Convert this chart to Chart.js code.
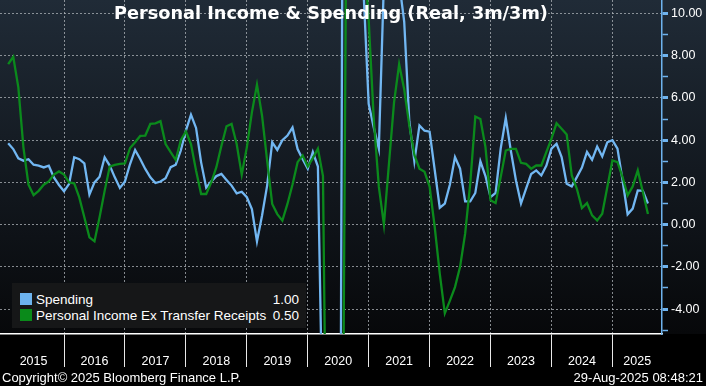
<!DOCTYPE html>
<html>
<head>
<meta charset="UTF-8">
<title>Personal Income & Spending</title>
<script src="https://cdn.jsdelivr.net/npm/chart.js"></script>
<style>
  body { margin: 0; background: #000; font-family: "Liberation Sans", Arial, sans-serif; }
  #wrap {
    position: relative; width: 706px; height: 386px;
    background: linear-gradient(to bottom, #202b37 0px, #131920 170px, #07080a 334px, #000 334px);
  }
  #chartTitle {
    position: absolute; left: 0; top: 5px; width: 662px; text-align: center;
    color: #fff; font: bold 17.7px "DejaVu Sans", sans-serif; line-height: 1; z-index: 2;
  }
  #legend {
    position: absolute; left: 12px; top: 283px; width: 294px; height: 45px;
    background: #161718; box-sizing: border-box; padding-top: 8px; z-index: 2;
  }
  #legend .row { display: flex; align-items: center; height: 16px; color: #fff; font-size: 13.5px; }
  #legend .sw { width: 12px; height: 12px; margin: 0 4px 0 8px; }
  #legend .name { flex: 1; }
  #legend .val { margin-right: 7px; }
  .foot { position: absolute; top: 371px; color: #fff; font-size: 13px; line-height: 1; }
  #copy { left: 2px; }
  #stamp { right: 3px; }
  canvas { position: absolute; left: 0; top: 0; }
</style>
</head>
<body>
<div id="wrap">
  <canvas id="chart" width="706" height="386"></canvas>
  <div id="chartTitle">Personal Income &amp; Spending (Real, 3m/3m)</div>
  <div id="legend"></div>
  <div class="foot" id="copy">Copyright© 2025 Bloomberg Finance L.P.</div>
  <div class="foot" id="stamp">29-Aug-2025 08:48:21</div>
</div>
<script>
  // monthly points, Jan 2015 .. Jul 2025 (month-end)
  const months = [];
  for (let y = 2015; y <= 2025; y++) {
    for (let m = 1; m <= 12; m++) {
      if (y === 2025 && m > 7) break;
      months.push(y + "-" + String(m).padStart(2, "0"));
    }
  }

  const years = ["2015", "2016", "2017", "2018", "2019", "2020", "2021", "2022", "2023", "2024", "2025"];
  const yTickValues = [-5, -4, -3, -2, -1, 0, 1, 2, 3, 4, 5, 6, 7, 8, 9, 10];
  const seriesNames = ["Spending", "Personal Income Ex Transfer Receipts"];

  const spending = [
    3.85, 3.58, 3.14, 3.03, 3.10, 2.84, 2.79, 2.71, 2.79, 2.24, 1.88, 1.58,
    1.93, 3.19, 3.10, 2.90, 1.42, 2.00, 2.27, 3.19, 2.80, 2.24, 1.74, 2.05,
    2.87, 3.54, 3.11, 2.64, 2.24, 1.97, 2.04, 2.20, 2.72, 2.84, 3.51, 4.45,
    5.21, 4.58, 2.95, 1.75, 2.05, 2.30, 2.40, 2.12, 1.85, 1.48, 1.56, 1.30,
    0.74, -0.79, 0.43, 1.85, 3.90, 3.54, 4.00, 4.22, 4.60, 3.58, 3.10, 2.65,
    3.44, 2.75, -10.5, -45, -50, -40, 25, 40, 30, 18, 11, 5.72,
    4.60, 3.60, 11.5, 16, 14, 11.5, 9.6, 4.9, 3.0, 4.7, 4.45, 4.40,
    2.60, 0.80, 1.00, 1.90, 3.20, 2.65, 1.10, 1.10, 1.50, 3.00, 2.30, 1.30,
    1.50, 3.60, 5.05, 3.50, 2.10, 1.00, 1.70, 2.40, 2.57, 2.33, 2.80, 3.60,
    3.83, 3.20, 1.94, 1.81, 2.25, 2.70, 3.44, 3.07, 3.70, 3.23, 3.90, 4.00,
    3.60, 2.10, 0.49, 0.76, 1.62, 1.60, 1.00
  ];

  const incomeExTransfers = [
    7.60, 7.95, 6.50, 3.66, 1.89, 1.40, 1.60, 1.89, 2.05, 2.37, 2.52, 2.37,
    2.00, 1.96, 1.29, 0.35, -0.60, -0.79, 0.35, 1.60, 2.75, 2.83, 2.88, 2.90,
    3.63, 3.90, 4.20, 4.22, 4.77, 4.80, 4.90, 3.82, 3.43, 3.06, 4.00, 4.42,
    3.82, 2.56, 1.45, 1.45, 2.00, 2.72, 3.74, 4.66, 4.77, 3.82, 2.37, 3.66,
    5.32, 6.63, 5.16, 3.03, 0.98, 0.50, 0.19, 0.98, 1.90, 2.96, 3.28, 2.75,
    3.15, 3.60, 2.30, -20, -25, -15, -8, 30, 25, 15, 13, 9.7,
    5.00, 1.80, 0.00, 2.90, 5.80, 7.60, 6.40, 4.70, 3.30, 2.65, 2.50, 1.80,
    -0.10, -2.32, -4.20, -3.60, -2.96, -2.00, -0.43, 1.94, 5.12, 5.00, 3.67, 1.15,
    1.02, 2.25, 3.51, 3.59, 3.59, 2.93, 2.88, 2.65, 2.80, 2.80, 3.44, 4.07,
    4.80, 4.54, 4.27, 2.33, 1.70, 0.79, 1.02, 0.44, 0.20, 0.52, 1.78, 3.04,
    2.96, 2.25, 1.39, 1.81, 2.57, 1.55, 0.50
  ];

  // axis range (month index units, index 0 = end of Jan 2015)
  const X_MIN = -1.611, X_MAX = 128.77;
  const Y_MIN = -5.18, Y_MAX = 10.64;

  const blue = "#72b7f2", green = "#0b8a1c", axisBlue = "#6fb3ee";
  const gridColor = "rgba(175,180,186,0.75)";

  // legend with last values
  const seriesData = [spending, incomeExTransfers];
  const swatches = ["#6db3ee", "#0a8a1a"];
  document.getElementById("legend").innerHTML = seriesNames.map((n, k) => {
    const last = seriesData[k][seriesData[k].length - 1];
    return '<div class="row"><div class="sw" style="background:' + swatches[k] + '"></div>' +
      '<div class="name">' + n + '</div><div class="val">' + last.toFixed(2) + '</div></div>';
  }).join("");

  Chart.defaults.font.family = '"Liberation Sans", Arial, sans-serif';
  Chart.defaults.color = "#fff";

  // keep the plot flush with the canvas edges
  function noPad(s) {
    s.paddingTop = 0; s.paddingBottom = 0; s.paddingLeft = 0; s.paddingRight = 0;
  }

  const ctx = document.getElementById("chart").getContext("2d");
  new Chart(ctx, {
    type: "line",
    data: {
      datasets: [
        {
          label: seriesNames[0],
          data: spending.map((v, i) => ({ x: i, y: v })),
          borderColor: blue, borderWidth: 2.3, pointRadius: 0, tension: 0, order: 1
        },
        {
          label: seriesNames[1],
          data: incomeExTransfers.map((v, i) => ({ x: i, y: v })),
          borderColor: green, borderWidth: 2.3, pointRadius: 0, tension: 0, order: 0
        }
      ]
    },
    options: {
      animation: false,
      responsive: false,
      layout: { padding: { left: 0, top: 0, right: 0, bottom: 18 } },
      plugins: { legend: { display: false }, tooltip: { enabled: false } },
      scales: {
        x: {
          type: "linear", position: "bottom", min: X_MIN, max: X_MAX,
          afterBuildTicks: s => {
            const t = [];
            years.forEach((y, k) => {
              if (k > 0) t.push({ value: 12 * k - 1 });   // year boundary
              const a = Math.max(12 * k - 1, X_MIN), b = Math.min(12 * k + 11, X_MAX);
              t.push({ value: (a + b) / 2, year: y });
            });
            s.ticks = t;
          },
          afterFit: s => { s.height = 34; noPad(s); },
          ticks: {
            autoSkip: false, maxRotation: 0, padding: -13,
            font: { size: 12.5 }, color: "#fff",
            callback: (v, i, ticks) => ticks[i].year || ""
          },
          grid: {
            color: c => (c.tick && c.tick.year) ? "transparent" : gridColor,
            tickColor: c => (c.tick && c.tick.year) ? "transparent" : "#e8e8e8",
            tickLength: 33, tickWidth: 1, lineWidth: 1
          },
          border: { color: "#fff", width: 1.5, dash: [2, 2] }
        },
        y: {
          position: "right", min: Y_MIN, max: Y_MAX,
          afterBuildTicks: s => { s.ticks = yTickValues.map(v => ({ value: v })); },
          afterFit: s => { s.width = 44; noPad(s); },
          ticks: {
            autoSkip: false, padding: 3, font: { size: 12.5 }, color: "#fff",
            callback: v => (v % 2 === 0 ? v.toFixed(2) : "")
          },
          grid: {
            color: c => (c.tick && c.tick.value % 2 === 0) ? gridColor : "transparent",
            tickColor: axisBlue,
            tickLength: 6,
            tickWidth: c => (c.tick && c.tick.value % 2 === 0) ? 3 : 1.5,
            lineWidth: 1
          },
          border: { color: axisBlue, width: 1.5, dash: [2, 2] }
        }
      }
    }
  });
</script>
</body>
</html>
